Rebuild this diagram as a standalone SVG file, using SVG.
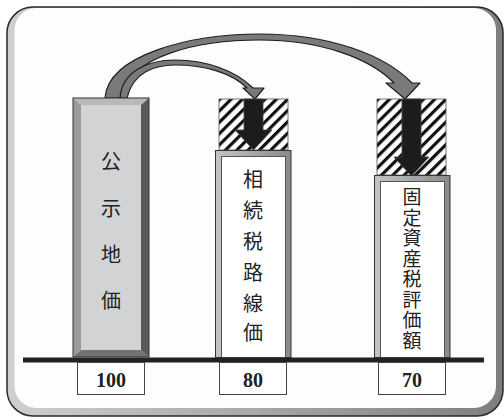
<svg xmlns="http://www.w3.org/2000/svg" width="504" height="420" viewBox="0 0 504 420">
<defs>
<linearGradient id="frameG" x1="0" y1="0" x2="1" y2="0">
<stop offset="0" stop-color="#cfcfcf"/>
<stop offset="0.5" stop-color="#a8a8a8"/>
<stop offset="1" stop-color="#7e7e7e"/>
</linearGradient>
<linearGradient id="bandG" x1="0" y1="0" x2="1" y2="0">
<stop offset="0" stop-color="#c4c4c4"/>
<stop offset="1" stop-color="#8a8a8a"/>
</linearGradient>
<pattern id="hatch" patternUnits="userSpaceOnUse" width="8" height="8" patternTransform="rotate(45)">
<rect width="8" height="8" fill="#fff"/>
<rect x="0" y="0" width="3.2" height="8" fill="#111"/>
</pattern>
</defs>
<style>
.cjk{font-family:"Noto Sans CJK JP","Noto Sans",sans-serif;font-size:20px;fill:#222;text-anchor:middle;dominant-baseline:central}
.vert{font-family:"Noto Sans CJK JP","Noto Sans",sans-serif;font-size:19px;fill:#222;text-anchor:middle;writing-mode:vertical-rl;letter-spacing:1.5px}
.num{font-family:"Liberation Serif",serif;font-size:20px;font-weight:bold;fill:#222;text-anchor:middle}
.lbl{fill:#fff;stroke:#444;stroke-width:1}
.hatch{fill:url(#hatch);stroke:#555;stroke-width:0.8}
.darr{fill:#1c1c1c;stroke:#444;stroke-width:0.8}
.carr{fill:#7a7a7a;stroke:#1e1e1e;stroke-width:1.2;stroke-linejoin:round}
.out{stroke:#333;stroke-width:1}
</style>
<rect width="504" height="420" fill="#fff"/>
<g id="frame">
<rect x="7" y="7" width="496" height="409" rx="26" fill="url(#frameG)"/>
<rect x="14.5" y="8" width="481.5" height="400" rx="22" fill="#fdfdfd"/>
<rect x="7" y="7" width="496" height="409" rx="26" fill="none" stroke="#2a2a2a" stroke-width="1.5"/>
</g>
<g id="connectors">
<path class="carr" d="M105,98 C108,55 190,34 260,34 C330,34 385,55 412,83 L420,83 L405,99 L386,83 L394,83 C370,58 320,40 260,40 C200,40 128,55 122,98 Z"/>
<path class="carr" d="M120,98 C122,70 150,60 175,60 C205,60 235,70 253,88 L264,88 L255,99 L243,88 L247,88 C232,73 205,65 175,65 C155,65 133,72 127,98 Z"/>
</g>
<g id="node-koji">
<rect x="73" y="98" width="76" height="259" fill="#d2d3d5"/>
<polygon points="73,98 149,98 141,105 81,105" fill="#b9b9bb"/>
<polygon points="73,98 81,105 81,350 73,357" fill="#9a9a9c"/>
<polygon points="149,98 149,357 141,350 141,105" fill="#58585a"/>
<polygon points="73,357 81,350 141,350 149,357" fill="#737375"/>
<rect x="73" y="98" width="76" height="259" fill="none" class="out"/>
<text class="cjk" x="111" y="160">公</text>
<text class="cjk" x="111" y="207">示</text>
<text class="cjk" x="111" y="253">地</text>
<text class="cjk" x="111" y="299">価</text>
</g>
<g id="node-rosenka">
<rect x="219" y="99" width="69" height="51" class="hatch"/>
<polygon class="darr" points="244,99 263,99 263,130 272,130 253.5,150 235,130 244,130"/>
<rect x="215.5" y="150.5" width="75.5" height="207" fill="url(#bandG)" class="out"/>
<rect x="221.5" y="156.5" width="64" height="201" fill="#fff" stroke="#555" stroke-width="1"/>
<text class="cjk" x="253" y="178">相</text>
<text class="cjk" x="253" y="209">続</text>
<text class="cjk" x="253" y="240">税</text>
<text class="cjk" x="253" y="271">路</text>
<text class="cjk" x="253" y="302">線</text>
<text class="cjk" x="253" y="331">価</text>
</g>
<g id="node-kotei">
<rect x="377" y="99" width="69" height="76" class="hatch"/>
<polygon class="darr" points="402,99 421,99 421,157 429,157 411.5,176 394,157 402,157"/>
<rect x="374.5" y="175.5" width="75.5" height="182" fill="url(#bandG)" class="out"/>
<rect x="380.5" y="181.5" width="64" height="176" fill="#fff" stroke="#555" stroke-width="1"/>
<text class="vert" x="412" y="269.5">固定資産税評価額</text>
</g>
<g id="baseline">
<rect x="23" y="357.5" width="461" height="5" fill="#222"/>
</g>
<g id="values">
<rect class="lbl" x="77.5" y="362.5" width="67" height="32"/>
<text class="num" x="111" y="387">100</text>
<rect class="lbl" x="219.5" y="362.5" width="67" height="32"/>
<text class="num" x="253" y="387">80</text>
<rect class="lbl" x="378.5" y="362.5" width="67" height="32"/>
<text class="num" x="412" y="387">70</text>
</g>
</svg>
